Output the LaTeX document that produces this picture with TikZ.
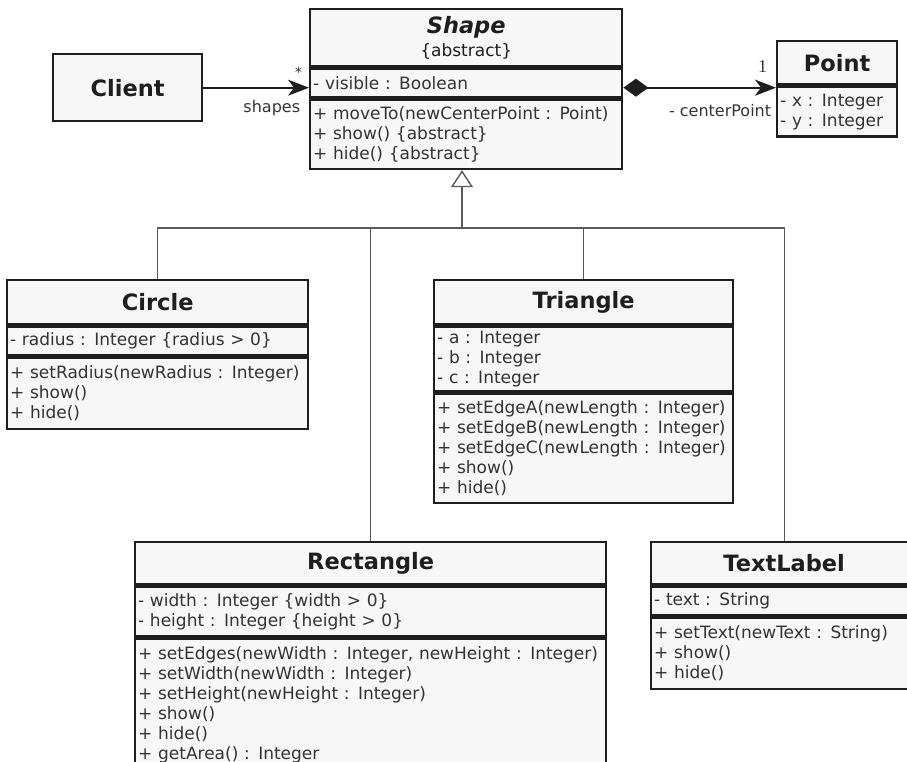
\documentclass[tikz,border=0pt]{standalone}
\usepackage{fontspec}
\setmainfont{DejaVu Sans}
\newfontfamily\numfont{Liberation Serif}
\usetikzlibrary{arrows.meta}
\definecolor{boxfill}{HTML}{F7F7F7}
\definecolor{ink}{HTML}{1E1E1E}
\definecolor{txt}{HTML}{333333}
\definecolor{genline}{HTML}{5A5A5A}
\newcommand\bodyfont{\fontsize{17}{20}\selectfont}
\newcommand\namefont{\fontsize{22.5}{26}\selectfont\bfseries}
\newcommand\lblfont{\fontsize{16}{19}\selectfont}

\begin{document}
\begin{tikzpicture}
    [x=1pt, y=-1pt,
     cname/.style={draw=ink, line width=2.4pt, fill=boxfill, anchor=north west,
       minimum width=#1, inner sep=0pt, align=center, font=\namefont, text=ink},
     cbody/.style={draw=ink, line width=2.4pt, fill=boxfill, anchor=north west,
       text width=#1pt, inner xsep=3pt, inner ysep=0pt, align=left,
       font=\bodyfont, text=txt},
     assoc/.style={draw=ink, line width=1.8pt},
     inherit/.style={draw=genline, line width=1.4pt},
     lbl/.style={font=\lblfont, text=txt, inner sep=0pt}]
    \useasboundingbox (0, 0) rectangle (907, 762);
    % classes at the top
    \node (client) at (52, 53) [cname=149, minimum height=67] {Client};
    \node (shape) at (309, 8) [cname=312, minimum height=57]
      {\textit{Shape}\\[-3pt]{\bodyfont\mdseries\{abstract\}}};
    \node (shape-a) at (shape.south west) [cbody=306, minimum height=29]
      {- visible : Boolean};
    \node (shape-o) at (shape-a.south west) [cbody=306, minimum height=69]
      {+ moveTo(newCenterPoint : Point)\\+ show() \{abstract\}\\+ hide() \{abstract\}};
    \node (point) at (776, 40) [cname=120, minimum height=43] {Point};
    \node (point-a) at (point.south west) [cbody=114, minimum height=50]
      {- x : Integer\\- y : Integer};
    % subclasses
    \node (circle) at (6, 279) [cname=301, minimum height=44] {Circle};
    \node (circle-a) at (circle.south west) [cbody=295, minimum height=29]
      {- radius : Integer \{radius > 0\}};
    \node (circle-o) at (circle-a.south west) [cbody=295, minimum height=71]
      {+ setRadius(newRadius : Integer)\\+ show()\\+ hide()};
    \node (tri) at (433, 279) [cname=299, minimum height=44] {Triangle};
    \node (tri-a) at (tri.south west) [cbody=293, minimum height=65]
      {- a : Integer\\- b : Integer\\- c : Integer};
    \node (tri-o) at (tri-a.south west) [cbody=293, minimum height=109]
      {+ setEdgeA(newLength : Integer)\\+ setEdgeB(newLength : Integer)\\%
       + setEdgeC(newLength : Integer)\\+ show()\\+ hide()};
    \node (rect) at (134, 541) [cname=471, minimum height=42] {Rectangle};
    \node (rect-a) at (rect.south west) [cbody=465, minimum height=50]
      {- width : Integer \{width > 0\}\\- height : Integer \{height > 0\}};
    \node (rect-o) at (rect-a.south west) [cbody=465, minimum height=131]
      {+ setEdges(newWidth : Integer, newHeight : Integer)\\%
       + setWidth(newWidth : Integer)\\+ setHeight(newHeight : Integer)\\%
       + show()\\+ hide()\\+ getArea() : Integer};
    \node (label) at (650, 541) [cname=266, minimum height=42] {TextLabel};
    \node (label-a) at (label.south west) [cbody=260, minimum height=29]
      {- text : String};
    \node (label-o) at (label-a.south west) [cbody=260, minimum height=71]
      {+ setText(newText : String)\\+ show()\\+ hide()};
    % associations
    \draw [assoc, -{Stealth[length=21pt, width=16pt, inset=6pt]}]
      (client.east) to
      node [lbl, pos=1, anchor=south east, xshift=-6pt, yshift=9pt]
        {\fontsize{14}{16}\selectfont *}
      node [lbl, pos=1, anchor=north east, xshift=-8pt, yshift=-12pt] {shapes}
      (client.east -| shape.west);
    \draw [assoc, {Diamond[length=25pt, width=18pt]}-{Stealth[length=21pt, width=16pt, inset=6pt]}]
      (client.east -| shape.east) to
      node [lbl, pos=1, anchor=south east, xshift=-8pt, yshift=14pt]
        {\numfont\fontsize{18}{20}\selectfont 1}
      node [lbl, pos=1, anchor=north east, xshift=-4pt, yshift=-16pt] {- centerPoint}
      (client.east -| point.west);
    % generalization
    \coordinate (gen) at (462, 228);
    \draw [inherit] (circle.north) |- (gen);
    \draw [inherit] (rect.north) |- (gen);
    \draw [inherit] (tri.north) |- (gen);
    \draw [inherit] (label.north) |- (gen);
    \draw [inherit, -{Triangle[open, fill=white, length=17pt, width=22pt]}]
      (gen) to (gen |- shape-o.south);
\end{tikzpicture}
\end{document}
